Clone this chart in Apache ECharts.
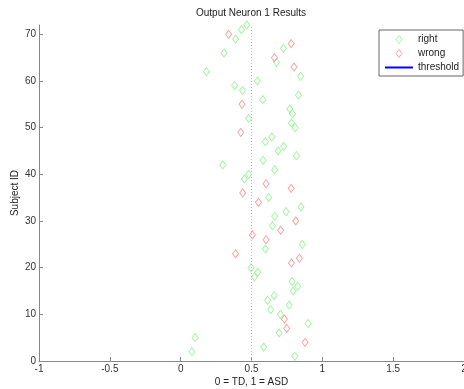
<!DOCTYPE html>
<html>
<head>
<meta charset="utf-8">
<script src="https://cdn.jsdelivr.net/npm/echarts@6/dist/echarts.min.js"></script>
<style>
  html, body { margin: 0; padding: 0; background: #fff; }
  #chart { width: 464px; height: 389px; }
</style>
</head>
<body>
<div id="chart"></div>
<script>
// subjects classified correctly
var rightIds = [1, 2, 3, 5, 6, 8, 10, 11, 12, 13, 14, 15, 16, 17, 18, 19, 20, 24, 25, 29,
  31, 32, 33, 35, 39, 40, 41, 42, 43, 44, 45, 46, 47, 48, 50, 51, 52, 53, 54, 56,
  57, 58, 59, 60, 61, 62, 64, 66, 67, 69, 71, 72];
var rightOut = [0.805, 0.08, 0.586, 0.102, 0.695, 0.90, 0.704, 0.636, 0.766, 0.614, 0.66, 0.794, 0.826, 0.787, 0.521, 0.544, 0.497, 0.598, 0.859, 0.648,
  0.664, 0.744, 0.850, 0.622, 0.45, 0.48, 0.664, 0.297, 0.582, 0.817, 0.688, 0.727, 0.598, 0.643, 0.808, 0.782, 0.48, 0.789, 0.77, 0.579,
  0.831, 0.436, 0.381, 0.542, 0.847, 0.182, 0.676, 0.306, 0.725, 0.388, 0.429, 0.466];
// subjects classified wrong
var wrongIds = [4, 7, 9, 21, 22, 23, 26, 27, 28, 30, 34, 36, 37, 38, 49, 55, 63, 65, 68, 70];
var wrongOut = [0.878, 0.749, 0.732, 0.782, 0.838, 0.388, 0.603, 0.506, 0.706, 0.812, 0.549, 0.438, 0.78, 0.603, 0.424, 0.433, 0.80, 0.662, 0.78, 0.339];

var threshold = 0.5;
var xTicks = [-1, -0.5, 0, 0.5, 1, 1.5, 2];
var yTicks = [0, 10, 20, 30, 40, 50, 60, 70];

function pairs(xs, ys) {
  var out = [];
  for (var i = 0; i < xs.length; i++) out.push([xs[i], ys[i]]);
  return out;
}

var font = 'Liberation Sans, Arial, Helvetica, sans-serif';
var diamond = 'path://M3,0L6,4L3,8L0,4Z';

var chart = echarts.init(document.getElementById('chart'));
chart.setOption({
  animation: false,
  title: {
    text: 'Output Neuron 1 Results',
    left: 251, top: 8, textAlign: 'center', padding: 0,
    textStyle: { fontSize: 10, fontWeight: 'normal', color: '#222', fontFamily: font }
  },
  legend: {
    orient: 'vertical',
    left: 379, top: 30,
    padding: [4, 4, 3, 6],
    itemWidth: 28, itemHeight: 8, itemGap: 3,
    borderColor: '#666', borderWidth: 1, borderRadius: 0,
    backgroundColor: '#fff',
    textStyle: { fontSize: 10, color: '#222', fontFamily: font, lineHeight: 11 },
    itemStyle: { borderWidth: 1 },
    data: [
      { name: 'right', icon: diamond },
      { name: 'wrong', icon: diamond },
      { name: 'threshold', icon: 'path://M0,0L28,0L28,2L0,2Z',
        itemStyle: { color: '#0000ff', borderWidth: 0 } }
    ]
  },
  grid: { left: 39, right: 0, top: 25, bottom: 28, outerBoundsMode: 'none', containLabel: false },
  xAxis: {
    type: 'value', min: -1, max: 2, interval: 0.5,
    name: '0 = TD, 1 = ASD', nameLocation: 'middle', nameGap: 16, nameMoveOverlap: false,
    nameTextStyle: { fontSize: 10, color: '#222', fontFamily: font },
    axisLine: { onZero: false, lineStyle: { color: '#888' } },
    axisTick: { inside: true, length: 4, customValues: xTicks, lineStyle: { color: '#888' } },
    axisLabel: { customValues: xTicks, fontSize: 10, color: '#333', fontFamily: font, margin: 3 },
    splitLine: { show: false }
  },
  yAxis: {
    type: 'value', min: 0, max: 72, interval: 10,
    name: 'Subject ID', nameLocation: 'middle', nameGap: 19, nameMoveOverlap: false,
    nameTextStyle: { fontSize: 10, color: '#222', fontFamily: font },
    axisLine: { show: true, onZero: false, lineStyle: { color: '#888' } },
    axisTick: { show: true, inside: true, length: 4, customValues: yTicks, lineStyle: { color: '#888' } },
    axisLabel: { customValues: yTicks, fontSize: 10, color: '#333', fontFamily: font, margin: 3 },
    splitLine: { show: false }
  },
  series: [
    {
      name: 'right', type: 'scatter',
      symbol: 'diamond', symbolSize: [6, 8],
      itemStyle: { color: 'rgba(0,0,0,0)', borderColor: '#8cf58c', borderWidth: 1 },
      data: pairs(rightOut, rightIds)
    },
    {
      name: 'wrong', type: 'scatter',
      symbol: 'diamond', symbolSize: [6, 8],
      itemStyle: { color: 'rgba(0,0,0,0)', borderColor: '#ff8c8c', borderWidth: 1 },
      data: pairs(wrongOut, wrongIds)
    },
    {
      name: 'threshold', type: 'line', symbol: 'none',
      lineStyle: { color: '#c4a8e4', width: 1, type: [1, 2] },
      data: [[threshold, 0], [threshold, 72]]
    }
  ]
});
</script>
</body>
</html>
